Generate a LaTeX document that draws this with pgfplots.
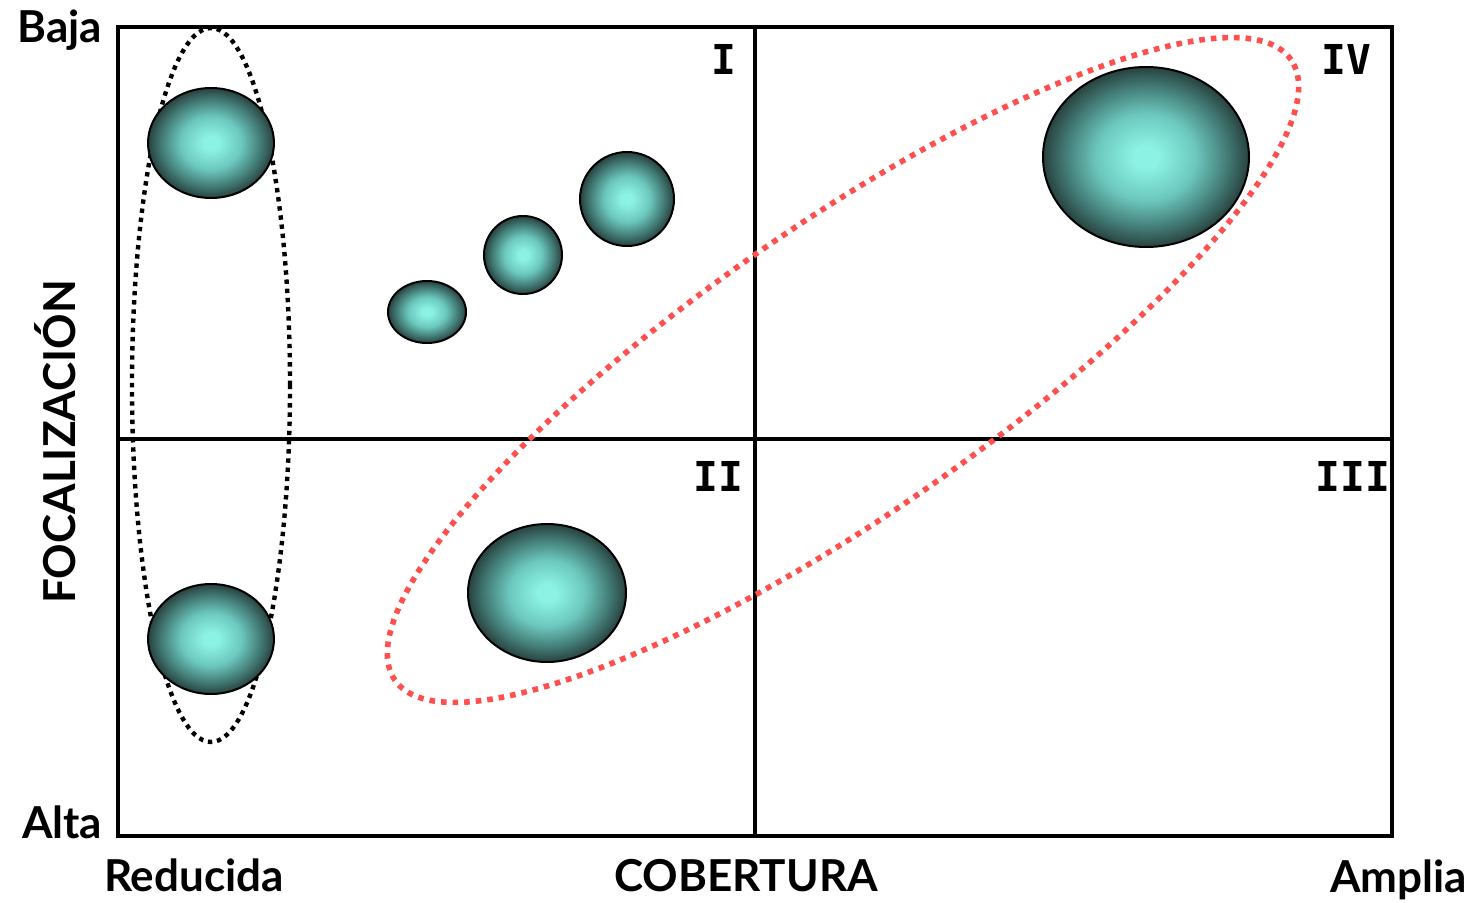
\documentclass[border=0pt]{standalone}
\usepackage{pgfplots}
\pgfplotsset{compat=1.18}
\usepackage{pgfplotstable}
\usepackage{fontspec}
\setmainfont{Lato}
\newfontfamily\numfont{DejaVu Sans Mono}

\definecolor{bubin}{RGB}{140,242,228}
\definecolor{bubmid}{RGB}{108,200,190}
\definecolor{bubdark}{RGB}{68,125,120}
\definecolor{bubout}{RGB}{40,66,63}
\definecolor{redot}{RGB}{255,80,80}
% the path's box covers the inner 25bp of the shading
\pgfdeclareradialshading{bub}{\pgfpoint{0bp}{0bp}}{color(0bp)=(bubin); color(3bp)=(bubin); color(12bp)=(bubmid); color(19.5bp)=(bubdark); color(25bp)=(bubout); color(50bp)=(bubout)}
\pgfdeclareplotmark{blank}{}

% bubble centres and half axes, in pixel units of the frame
\pgfplotstableread{
x     y    rx   ry
93    693  63   55
93    197  63   55
309   524  39   31
405   581  39   39
509   637  47   47
429   243  79   69
1028  679  103  90
}\bubbles

\begin{document}
\begin{tikzpicture}[
  lbl/.style={font=\fontsize{11}{12}\selectfont\bfseries, inner sep=0pt},
  rom/.style={font=\fontsize{10.3}{11}\selectfont\numfont\bfseries, inner sep=0pt, anchor=base east}]
\begin{axis}[x=0.25pt, y=0.25pt, xmin=0, xmax=1274, ymin=0, ymax=809,
  axis lines=box, ticks=none, clip=false,
  axis line style={line width=1.1pt}]
  % quadrant dividers
  \draw[line width=1pt] (axis cs:637,0) -- (axis cs:637,809);
  \draw[line width=1pt] (axis cs:0,397) -- (axis cs:1274,397);
  % bubbles
  \addplot[scatter, only marks, mark=blank,
    visualization depends on={\thisrow{rx}\as\rx},
    visualization depends on={\thisrow{ry}\as\ry},
    scatter/@pre marker code/.code={%
      \shadedraw[shading=bub, draw=black, line width=0.5pt]
        (0,0) ellipse [x radius={\rx*0.25pt}, y radius={\ry*0.25pt}];},
    scatter/@post marker code/.code={}]
    table[x=x, y=y] {\bubbles};
  % groupings
  \draw[black, line width=1.1pt, dash pattern=on 1.1pt off 1.2pt]
    (axis cs:93,451) ellipse [x radius=19.75pt, y radius=89.25pt];
  \draw[overlay, redot, line width=1.4pt, dash pattern=on 1.4pt off 1.5pt,
    rotate around={34.7:(axis cs:725,466)}]
    (axis cs:725,466) ellipse [x radius=136.25pt, y radius=36.25pt];
  % quadrant names
  \node[rom] at (axis cs:619,761) {I};
  \node[rom] at (axis cs:626,345) {II};
  \node[rom] at (axis cs:1254,761) {IV};
  \node[rom] at (axis cs:1273,345) {III};
  % axis texts
  \node[lbl, anchor=base east] at (axis cs:-15,794) {Baja};
  \node[lbl, anchor=base east] at (axis cs:-15,-2) {Alta};
  \node[lbl, anchor=base] at (axis cs:76,-55) {Reducida};
  \node[lbl, anchor=base] at (axis cs:628,-55) {COBERTURA};
  \node[lbl, anchor=base east] at (axis cs:1350,-56) {Amplia};
  \node[lbl, rotate=90, anchor=base] at (axis cs:-42,394) {FOCALIZACIÓN};
  \path (axis cs:-118,-66) rectangle (axis cs:1362,836);
\end{axis}
\end{tikzpicture}
\end{document}
